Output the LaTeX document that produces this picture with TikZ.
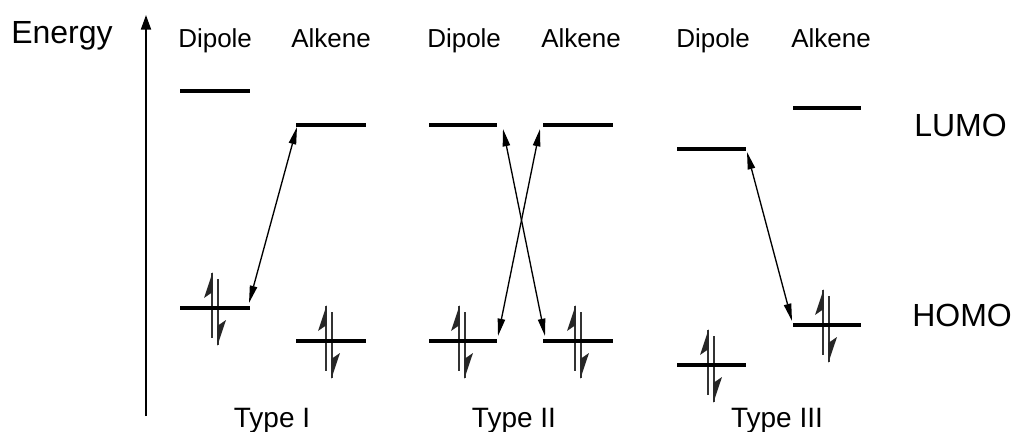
\documentclass[tikz,border=0pt]{standalone}
\usepackage{fontspec}
\setmainfont{Liberation Sans}
\usetikzlibrary{arrows.meta}
\begin{document}
\begin{tikzpicture}[x=0.75pt,y=-0.75pt,
  level/.style={line width=3.7pt},
  conn/.style={line width=1pt,{Triangle[length=13pt,width=5.5pt]}-{Triangle[length=13pt,width=5.5pt]}},
  shaft/.style={line width=1.4pt,black!80},
  hdr/.style={font=\fontsize{19.5}{22}\selectfont,anchor=base west,inner sep=0pt},
  side/.style={font=\fontsize{24}{28}\selectfont,anchor=base west,inner sep=0pt},
  typ/.style={font=\fontsize{21}{24}\selectfont,anchor=base,inner sep=0pt},
  pair/.pic={
    \draw[shaft] (-3,-35) -- (-3,30);
    \fill[black!85] (-2.3,-36) -- (-11,-10) -- (-2.3,-16) -- cycle;
    \draw[shaft] (3,-29) -- (3,37);
    \fill[black!85] (2.3,38) -- (11,12) -- (2.3,18) -- cycle;
  }]
\useasboundingbox (0,0) rectangle (1015,432);

% axis
\coordinate (axB) at (146,416);
\coordinate (axT) at (146,15);
\draw[line width=1.5pt,-{Triangle[length=11pt,width=7.5pt]}] (axB) -- (axT);
\node[font=\fontsize{24}{28}\selectfont,anchor=base west,inner sep=0pt] (energy) at (11,43) {Energy};

% headers
\node[hdr] (h1d) at (178,47) {Dipole};
\node[hdr] (h1a) at (291,47) {Alkene};
\node[hdr] (h2d) at (427,47) {Dipole};
\node[hdr] (h2a) at (541,47) {Alkene};
\node[hdr] (h3d) at (676,47) {Dipole};
\node[hdr] (h3a) at (791,47) {Alkene};

\node[side] (lumo) at (914,136) {LUMO};
\node[side] (homo) at (912,326) {HOMO};

\node[typ] (t1) at (272,427) {Type I};
\node[typ] (t2) at (514,427) {Type II};
\node[typ] (t3) at (777,427) {Type III};

% level coordinates
\coordinate (d1Ll) at (180,91);  \coordinate (d1Lr) at (250,91);
\coordinate (a1Ll) at (296,125); \coordinate (a1Lr) at (366,125);
\coordinate (d1Hl) at (180,308); \coordinate (d1Hr) at (250,308);
\coordinate (a1Hl) at (296,341); \coordinate (a1Hr) at (366,341);
\coordinate (d2Ll) at (429,125); \coordinate (d2Lr) at (497,125);
\coordinate (a2Ll) at (543,125); \coordinate (a2Lr) at (613,125);
\coordinate (d2Hl) at (429,341); \coordinate (d2Hr) at (497,341);
\coordinate (a2Hl) at (543,341); \coordinate (a2Hr) at (613,341);
\coordinate (d3Ll) at (677,149); \coordinate (d3Lr) at (746,149);
\coordinate (a3Ll) at (793,108); \coordinate (a3Lr) at (861,108);
\coordinate (d3Hl) at (677,365); \coordinate (d3Hr) at (746,365);
\coordinate (a3Hl) at (793,325); \coordinate (a3Hr) at (861,325);

% electron pairs
\pic at (215,308) {pair};
\pic at (329,341) {pair};
\pic at (462,341) {pair};
\pic at (578,341) {pair};
\pic at (711,365) {pair};
\pic at (826,325) {pair};

% levels
\foreach \a/\b in {d1Ll/d1Lr,a1Ll/a1Lr,d1Hl/d1Hr,a1Hl/a1Hr,
                   d2Ll/d2Lr,a2Ll/a2Lr,d2Hl/d2Hr,a2Hl/a2Hr,
                   d3Ll/d3Lr,a3Ll/a3Lr,d3Hl/d3Hr,a3Hl/a3Hr}
  \draw[level] (\a) -- (\b);

% interaction arrows
\coordinate (c1a) at (249,303); \coordinate (c1b) at (297,127);
\coordinate (c2a) at (503,129); \coordinate (c2b) at (545,336);
\coordinate (c2c) at (540,129); \coordinate (c2d) at (498,336);
\coordinate (c3a) at (747,152); \coordinate (c3b) at (792,321);
\draw[conn] (c1a) -- (c1b);
\draw[conn] (c2a) -- (c2b);
\draw[conn] (c2c) -- (c2d);
\draw[conn] (c3a) -- (c3b);
\end{tikzpicture}
\end{document}
